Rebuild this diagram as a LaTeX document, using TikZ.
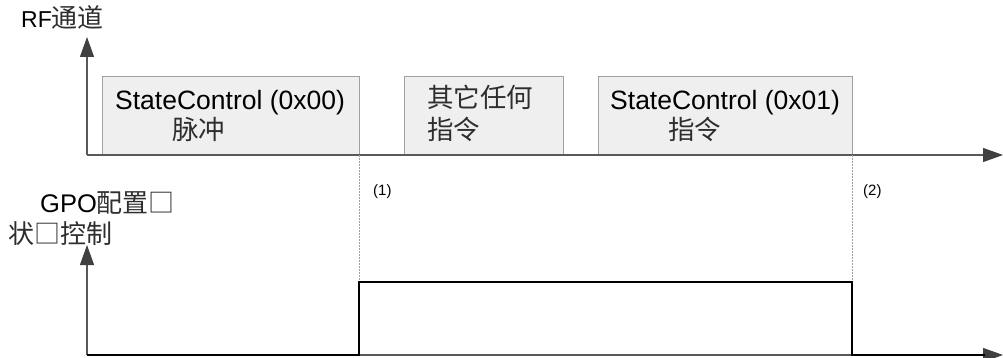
\documentclass[tikz,border=0pt]{standalone}
\usepackage{fontspec}
\setmainfont{Liberation Sans}
\newfontfamily\cjkfont{Noto Sans CJK SC}
\definecolor{cjkgray}{HTML}{2E2E2E}
\newcommand\cjk{\cjkfont\color{cjkgray}}
\usetikzlibrary{arrows.meta}
\definecolor{axisgray}{HTML}{595959}
\definecolor{tipgray}{HTML}{404040}
\definecolor{boxfill}{HTML}{EFEFEF}
\definecolor{boxline}{HTML}{A0A0A0}
\definecolor{dotgray}{HTML}{A0A0A0}
\tikzset{
  axis/.style={draw=axisgray, line width=1.2pt, -{Triangle[length=20pt,width=14pt,fill=tipgray,color=tipgray]}},
  cmdbox/.style={draw=boxline, fill=boxfill, line width=1pt, anchor=south west, inner sep=0pt, outer sep=0pt},
  guide/.style={draw=dotgray, line width=1pt, dash pattern=on 2pt off 1pt},
  signal/.style={draw=black, line width=1.5pt},
  big/.style={inner sep=0pt, anchor=base west, font=\fontsize{26.5}{30}\selectfont},
  lab/.style={inner sep=0pt, anchor=base west, font=\fontsize{24}{28}\selectfont},
  small/.style={inner sep=0pt, anchor=base west, font=\fontsize{15}{18}\selectfont},
}
\begin{document}
\begin{tikzpicture}[x=1pt,y=-1pt]
\useasboundingbox (0,0) rectangle (1003,358);
% coordinates
\coordinate (o1) at (87,155);
\coordinate (t1) at (87,37);
\coordinate (e1) at (1003,155);
\coordinate (o2) at (87,355);
\coordinate (t2) at (87,245);
\coordinate (e2) at (1003,355);
\coordinate (r1) at (359,355);
\coordinate (h1) at (359,282);
\coordinate (h2) at (852,282);
\coordinate (r2) at (852,355);
\coordinate (s2) at (985,355);
% boxes
\node[cmdbox, minimum width=257pt, minimum height=78pt] (b1) at (102,155) {};
\node[cmdbox, minimum width=159pt, minimum height=78pt] (b2) at (404,155) {};
\node[cmdbox, minimum width=254pt, minimum height=78pt] (b3) at (598,155) {};
% RF axis
\draw[axis] (o1) -- (t1);
\draw[axis] (o1) -- (e1);
% GPO axis
\draw[axis] (o2) -- (t2);
\draw[axis] (o2) -- (e2);
% guides
\draw[guide] (b1.south east) -- (h1);
\draw[guide] (b3.south east) -- (h2);
% signal
\draw[signal] (o2) -- (r1) -- (h1) -- (h2) -- (r2) -- (s2);
% texts
\node[lab] (rf) at (21,28) {\fontsize{23}{28}\selectfont RF\cjk\fontsize{26}{28}\selectfont 通道};
\node[big] (t1a) at (115,110) {StateControl (0x00)};
\node[big] (t1b) at (172,140) {\cjk 脉冲};
\node[big] (t2a) at (427,108) {\cjk 其它任何};
\node[big] (t2b) at (427,140) {\cjk 指令};
\node[big] (t3a) at (610,110) {StateControl (0x01)};
\node[big] (t3b) at (668,140) {\cjk 指令};
\node[small] (n1) at (373,195) {(1)};
\node[small] (n2) at (863,195) {(2)};
\node[lab] (g1) at (40,212) {\fontsize{25.5}{28}\selectfont GPO\cjk\fontsize{26}{28}\selectfont 配置□};
\node[lab] (g2) at (8,243) {\cjk\fontsize{26}{28}\selectfont 状□控制};
\end{tikzpicture}
\end{document}
